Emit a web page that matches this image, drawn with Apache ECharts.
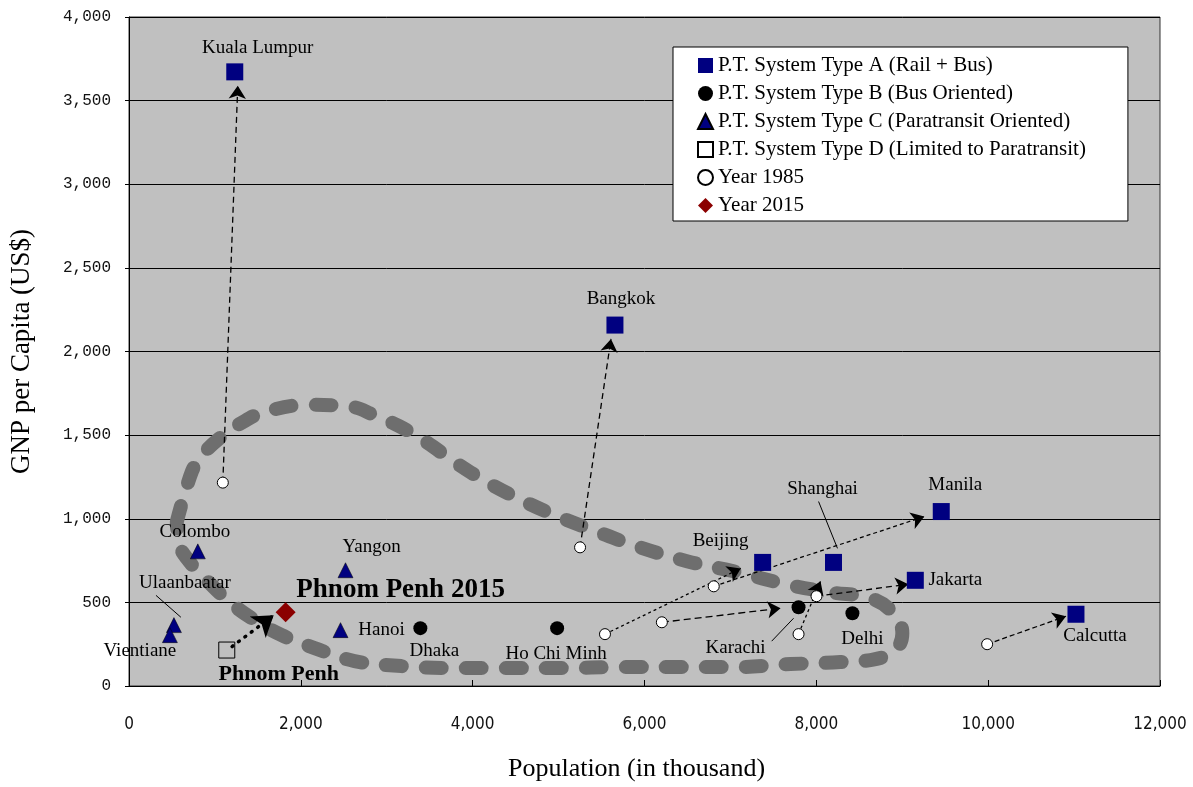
<!DOCTYPE html>
<html><head><meta charset="utf-8">
<script src="https://cdn.jsdelivr.net/npm/echarts@6/dist/echarts.min.js"></script>
<style>html,body{margin:0;padding:0;background:#fff}#c{width:1193px;height:787px}</style>
</head><body><div id="c"></div>
<script>
// ---- data (population in thousand, GNP per capita US$) ----
const typeA = [['Kuala Lumpur',1231,3672],['Bangkok',5656,2158],['Beijing',7375,739],['Shanghai',8200,739],['Manila',9454,1043],['Jakarta',9152,632],['Calcutta',11022,429]];
const typeB = [['Dhaka',3391,346],['Ho Chi Minh',4983,346],['Karachi',7793,471],['Delhi',8420,435]];
const typeC = [['Colombo',801,805],['Yangon',2520,692],['Ulaanbaatar',523,364],['Vientiane',476,304],['Hanoi',2462,334]];
const typeD = [['Phnom Penh',1138,215]];
const year1985 = [['Kuala Lumpur',1092,1216],['Bangkok',5250,829],['Beijing',5540,310],['Manila',6806,596],['Karachi',6202,381],['Shanghai',7793,310],['Jakarta',8002,537],['Calcutta',9988,250]];
const year2015 = [['Phnom Penh 2015',1823,441]];
// arrows: [from x, from y, to x, to y]
const arrowsKL = [1092,1216,1266,3589];
const arrowsBangkok = [5250,829,5610,2075];
const arrowsBeijing = [5540,310,7120,703];
const arrowsManila = [6806,596,9257,1013];
const arrowsKarachi = [6202,381,7584,465];
const arrowsShanghai = [7793,310,8049,626];
const arrowsJakarta = [8002,537,9071,608];
const arrowsCalcutta = [9988,250,10906,417];
const arrowPhnomPenh = [1200,236,1684,423];
// leader lines
const leaderShanghai = [8026,1103,8246,823];
const leaderKarachi = [7480,268,7735,405];
const leaderUlaanbaatar = [314,542,604,411];
// grouping curve (dashed gray loop)
const loopX = [557,732,848,1045,1312,1580,2091,2590,2846,3136,3438,3786,4135,4530,4913,5412,5877,6504,7038,7700,8165,8630,8897,9001,8920,8688,8281,7700,7038,6423,5726,5029,4332,3751,3171,2625,2160,1777,1429,1161,883,674,581,557];
const loopY = [984,1282,1377,1478,1574,1639,1681,1669,1621,1556,1466,1341,1228,1121,1031,930,841,745,686,602,560,525,435,316,215,161,143,131,113,113,113,107,107,107,119,149,227,304,405,507,644,763,852,984];
const xTicks = {min:0, max:12000, interval:2000};
const yTicks = {min:0, max:4000, interval:500};

// ---- layout of labels (pixel offsets from marker centre) ----
const labelOffsets = {
  'Kuala Lumpur':[23,-24],'Bangkok':[6,-26],'Beijing':[-42,-21],'Shanghai':[-11,-73],'Manila':[14,-27],
  'Jakarta':[40,0],'Calcutta':[19,22],'Dhaka':[14,23],'Ho Chi Minh':[-1,26],'Karachi':[-63,41],'Delhi':[10,26],
  'Colombo':[-3,-19],'Yangon':[26,-23],'Hanoi':[41,0],'Ulaanbaatar':[11,-42],'Vientiane':[-30,16],
  'Phnom Penh':[52,24],'Phnom Penh 2015':[115,-22]
};
const SERIF = '"Liberation Serif","Times New Roman",serif';
function pts(arr, labelled, bold){
  return arr.map(d => {
    const o = {name:d[0], value:[d[1], d[2]]};
    if (labelled) {
      const off = labelOffsets[d[0]] || [0,0];
      o.label = {show:true, position:'inside', offset:off, formatter:d[0], color:'#000', opacity:1,
        fontFamily:SERIF, fontSize: bold ? (d[0]==='Phnom Penh 2015'?27:22) : 19, fontWeight: bold?'bold':'normal'};
    }
    return o;
  });
}
function seg(a, style){ return {coords:[[a[0],a[1]],[a[2],a[3]]], lineStyle:style}; }
const loop = loopX.map((x,i)=>[x, loopY[i]]);

const chart = echarts.init(document.getElementById('c'));
chart.setOption({
  animation:false,
  backgroundColor:'#fff',
  grid:{left:127, right:33, top:17, bottom:99, show:true, backgroundColor:'#c0c0c0', borderColor:'#333', borderWidth:1},
  legend:{
    data:['P.T. System Type A (Rail + Bus)','P.T. System Type B (Bus Oriented)','P.T. System Type C (Paratransit Oriented)','P.T. System Type D (Limited to Paratransit)','Year 1985','Year 2015'],
    orient:'vertical', left:673, top:47, backgroundColor:'#fff', borderColor:'#000', borderWidth:1,
    padding:[8,42,5,24], itemGap:7, itemWidth:15, itemHeight:15,
    textStyle:{fontFamily:SERIF, fontSize:21, color:'#000'}
  },
  xAxis:{type:'value', min:xTicks.min, max:xTicks.max, interval:xTicks.interval,
    name:'Population (in thousand)', nameLocation:'middle', nameGap:70,
    nameTextStyle:{fontFamily:SERIF, fontSize:26, color:'#000', padding:[0,16,0,0]},
    axisLine:{lineStyle:{color:'#000'}}, axisTick:{inside:true, length:6, lineStyle:{color:'#000'}},
    axisLabel:{margin:30, fontFamily:'"Liberation Sans Narrow","DejaVu Sans Condensed",sans-serif', fontSize:17, color:'#111',
      formatter:v=>v.toLocaleString('en-US')},
    splitLine:{show:false}},
  yAxis:{type:'value', min:yTicks.min, max:yTicks.max, interval:yTicks.interval,
    name:'GNP per Capita (US$)', nameLocation:'middle', nameGap:94,
    nameTextStyle:{fontFamily:SERIF, fontSize:27, color:'#000'},
    axisLine:{show:true, lineStyle:{color:'#000'}}, axisTick:{show:true, length:4, lineStyle:{color:'#000'}},
    axisLabel:{margin:18, fontFamily:'"Liberation Mono","Courier New",monospace', fontSize:16, color:'#111',
      formatter:v=>v.toLocaleString('en-US')},
    splitLine:{show:true, lineStyle:{color:'#000', width:1}}},
  series:[
    {type:'line', name:'loop', data:loop, smooth:0.4, symbol:'none', silent:true, z:1,
      lineStyle:{color:'#6e6e6e', width:14, type:[16,24], cap:'round', join:'round'}},
    {type:'lines', name:'arrows', coordinateSystem:'cartesian2d', z:2, silent:true,
      symbol:['none','arrow'], symbolSize:13,
      lineStyle:{color:'#000', width:1.3, type:[5,4], opacity:1, curveness:0},
      data:[
        seg(arrowsKL,{type:[6,4]}), seg(arrowsBangkok,{type:[6,4]}), seg(arrowsBeijing,{type:[3,3]}),
        seg(arrowsManila,{type:[4,3]}), seg(arrowsKarachi,{type:[7,4]}), seg(arrowsShanghai,{type:[3,3]}),
        seg(arrowsJakarta,{type:[6,4]}), seg(arrowsCalcutta,{type:[5,3]})
      ]},
    {type:'lines', name:'pp', coordinateSystem:'cartesian2d', z:2, silent:true,
      symbol:['none','arrow'], symbolSize:20,
      lineStyle:{color:'#000', width:3.5, type:[1,7], cap:'round', opacity:1},
      data:[seg(arrowPhnomPenh,{})]},
    {type:'lines', name:'leaders', coordinateSystem:'cartesian2d', z:2, silent:true,
      symbol:'none', lineStyle:{color:'#000', width:1, type:'solid', opacity:1},
      data:[seg(leaderShanghai,{}), seg(leaderKarachi,{}), seg(leaderUlaanbaatar,{})]},
    {type:'scatter', name:'Year 1985', symbol:'circle', symbolSize:11, z:3,
      itemStyle:{color:'#fff', borderColor:'#000', borderWidth:1, opacity:1}, data:pts(year1985,false)},
    {type:'scatter', name:'P.T. System Type A (Rail + Bus)', symbol:'rect', symbolSize:17, z:4,
      itemStyle:{color:'#000080', opacity:1}, data:pts(typeA,true)},
    {type:'scatter', name:'P.T. System Type B (Bus Oriented)', symbol:'circle', symbolSize:14, z:4,
      itemStyle:{color:'#000', opacity:1}, data:pts(typeB,true)},
    {type:'scatter', name:'P.T. System Type C (Paratransit Oriented)', symbol:'triangle', symbolSize:15, z:4,
      itemStyle:{color:'#000080', borderColor:'#000', borderWidth:0.5, opacity:1}, data:pts(typeC,true)},
    {type:'scatter', name:'P.T. System Type D (Limited to Paratransit)', symbol:'rect', symbolSize:16, z:4,
      itemStyle:{color:'rgba(0,0,0,0)', borderColor:'#000', borderWidth:1, opacity:1}, data:pts(typeD,true,true)},
    {type:'scatter', name:'Year 2015', symbol:'diamond', symbolSize:20, z:4,
      itemStyle:{color:'#8b0000', opacity:1}, data:pts(year2015,true,true)}
  ]
});
</script></body></html>
